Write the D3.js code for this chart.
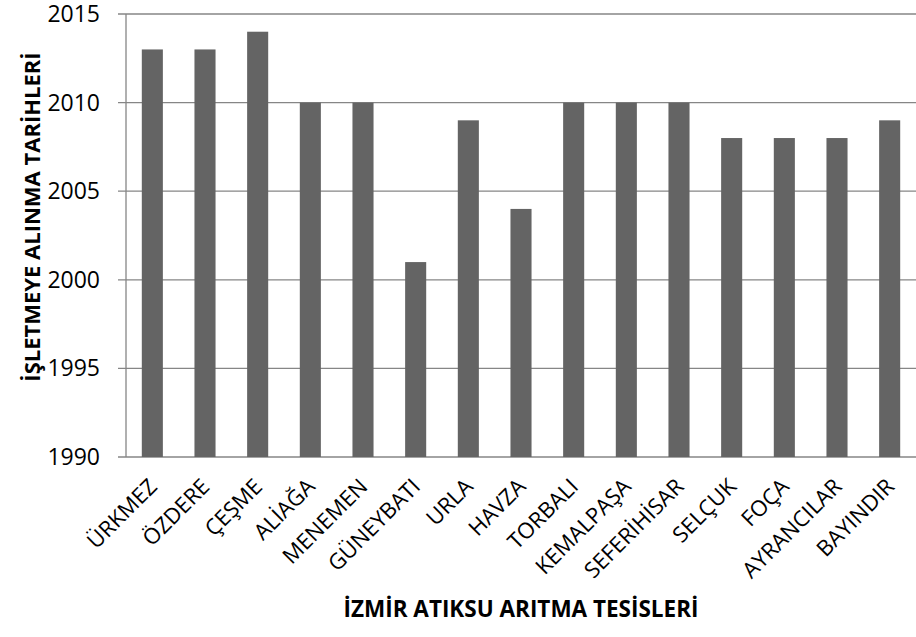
<!DOCTYPE html>
<html>
<head>
<meta charset="utf-8">
<script src="https://cdn.jsdelivr.net/npm/d3@7"></script>
<style>
  body { margin: 0; background: #fff; }
  text { font-family: "Open Sans", "DejaVu Sans", sans-serif; fill: #000; }
</style>
</head>
<body>
<script>
// plant names and commissioning years
var plants = ['ÜRKMEZ', 'ÖZDERE', 'ÇEŞME', 'ALİAĞA', 'MENEMEN', 'GÜNEYBATI', 'URLA', 'HAVZA',
  'TORBALI', 'KEMALPAŞA', 'SEFERİHİSAR', 'SELÇUK', 'FOÇA', 'AYRANCILAR', 'BAYINDIR'];
var years = [2013, 2013, 2014, 2010, 2010, 2001, 2009, 2004, 2010, 2010, 2010, 2008, 2008, 2008, 2009];
var yTicks = [1990, 1995, 2000, 2005, 2010, 2015];
var yTitle = 'İŞLETMEYE ALINMA TARİHLERİ';
var xTitle = 'İZMİR ATIKSU ARITMA TESİSLERİ';

var svgWidth = 916, svgHeight = 637;
var plotLeft = 126, plotRight = 916, plotTop = 14, plotBottom = 457;
var gridColor = '#868686';
var barColor = '#646464';

var svg = d3.select('body').append('svg')
  .attr('width', svgWidth)
  .attr('height', svgHeight);

var x = d3.scaleBand().domain(plants).range([plotLeft, plotRight]).paddingInner(0.6).paddingOuter(0.3);
var y = d3.scaleLinear().domain([1990, 2015]).range([plotBottom, plotTop]);

// gridlines
svg.selectAll('.grid')
  .data(yTicks)
  .enter()
  .append('line')
  .attr('x1', plotLeft - 8)
  .attr('x2', plotRight)
  .attr('y1', function(d) { return y(d); })
  .attr('y2', function(d) { return y(d); })
  .attr('stroke', gridColor)
  .attr('stroke-width', 1.3);

// vertical axis line
svg.append('line')
  .attr('x1', plotLeft).attr('x2', plotLeft)
  .attr('y1', plotTop).attr('y2', plotBottom)
  .attr('stroke', gridColor)
  .attr('stroke-width', 1.3);

// bars
svg.selectAll('.bar')
  .data(plants)
  .enter()
  .append('rect')
  .attr('x', function(d) { return x(d); })
  .attr('y', function(d, i) { return y(years[i]); })
  .attr('width', x.bandwidth())
  .attr('height', function(d, i) { return y(1990) - y(years[i]); })
  .attr('fill', barColor);

// y tick labels
svg.selectAll('.ytick')
  .data(yTicks)
  .enter()
  .append('text')
  .text(function(d) { return d; })
  .attr('x', 100)
  .attr('y', function(d) { return y(d) + 8; })
  .attr('text-anchor', 'end')
  .attr('font-size', '23px');

// x tick labels
svg.selectAll('.xtick')
  .data(plants)
  .enter()
  .append('text')
  .text(function(d) { return d; })
  .attr('text-anchor', 'end')
  .attr('font-size', '22px')
  .attr('transform', function(d) {
    var cx = x(d) + x.bandwidth() / 2 + 6;
    return 'translate(' + cx + ',' + (plotBottom + 31) + ')rotate(-45)';
  });

// axis titles
svg.append('text')
  .text(yTitle)
  .attr('text-anchor', 'middle')
  .attr('font-size', '22px')
  .attr('font-weight', 'bold')
  .attr('transform', 'translate(' + 40 + ',' + 217 + ')rotate(-90)');

svg.append('text')
  .text(xTitle)
  .attr('text-anchor', 'middle')
  .attr('font-size', '22.5px')
  .attr('font-weight', 'bold')
  .attr('x', 521)
  .attr('y', 617);
</script>
</body>
</html>
